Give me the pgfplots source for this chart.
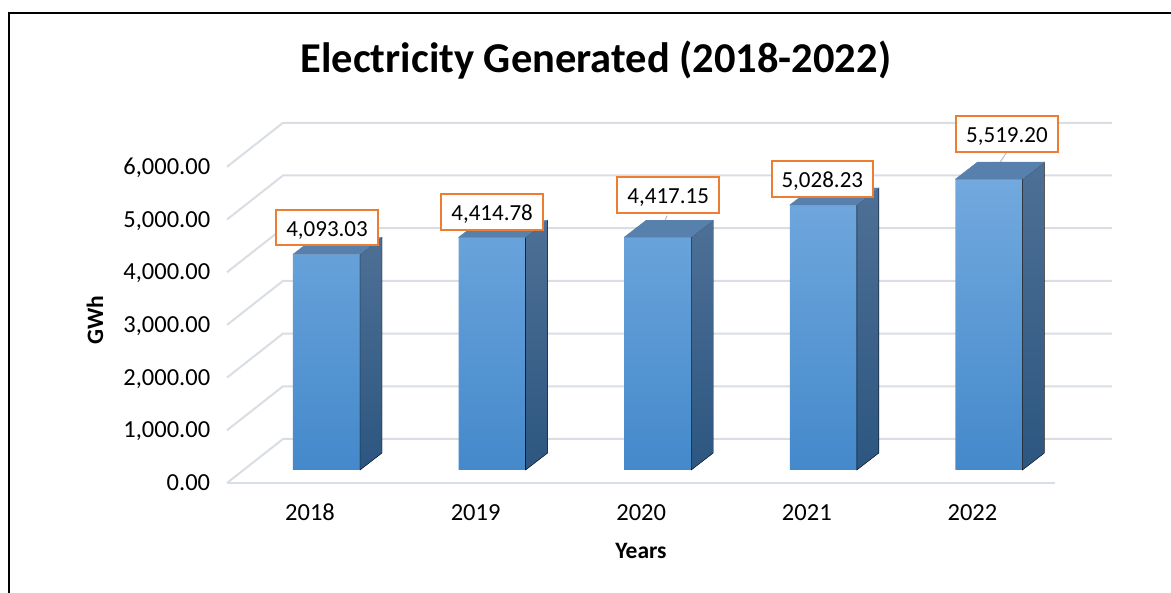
\documentclass[border=0pt]{standalone}
\usepackage{fontspec}
\setmainfont{Carlito}
\usepackage{pgfplots}
\usepackage{pgfplotstable}
\pgfplotsset{compat=1.18}
\definecolor{gridc}{RGB}{217,221,228}
\definecolor{fTop}{RGB}{114,169,222}
\definecolor{fBot}{RGB}{68,137,203}
\definecolor{sTop}{RGB}{78,112,150}
\definecolor{sBot}{RGB}{44,86,128}
\definecolor{tTop}{RGB}{88,128,172}
\definecolor{orangeC}{RGB}{237,125,49}
\definecolor{leadC}{RGB}{180,190,200}

\pgfplotstableread{
x val lab dx dy lu lv
0 4093.03 4,093.03 0.5 26.8 0 0
1 4414.78 4,414.78 0 25.5 0 0
2 4417.15 4,417.15 10.5 42 0.0568 408
3 5028.23 5,028.23 -1 26 0 0
4 5519.20 5,519.20 18 45 0.105 499
}\data

\newcommand\yu{0.0527}

\begin{document}
\begin{tikzpicture}
\useasboundingbox (0,0) rectangle (1171pt,-593pt);
\draw[line width=2pt] (9pt,-600pt) -- (9pt,-13pt) -- (1180pt,-13pt);
\begin{axis}[
  at={(227pt,-483pt)}, anchor=south west,
  x=165.6pt, y=\yu pt,
  xmin=-0.601, xmax=4.743, ymin=-247, ymax=6588,
  enlargelimits=false, clip=false,
  axis line style={draw=none}, major tick length=0pt, tick style={draw=none},
  xtick={0,1,2,3,4}, xticklabels={2018,2019,2020,2021,2022},
  ytick={0,1000,2000,3000,4000,5000,6000},
  yticklabels={0.00,{1,000.00},{2,000.00},{3,000.00},{4,000.00},{5,000.00},{6,000.00}},
  tick label style={font=\fontsize{24.5pt}{28pt}\selectfont},
  xticklabel style={anchor=base, xshift=-16.5pt, yshift=-37pt},
  yticklabel style={anchor=base east, xshift=-13.3pt, yshift=-20.6pt},
  title={Electricity Generated (2018-2022)},
  every axis title/.style={at={(axis description cs:0.4169,1.1389)}, anchor=base, font=\fontsize{42.5pt}{50pt}\selectfont\bfseries},
  xlabel={Years}, ylabel={GWh},
  every axis x label/.style={at={(axis description cs:0.4678,-0.1889)}, anchor=center, font=\fontsize{23.5pt}{27pt}\selectfont\bfseries},
  every axis y label/.style={at={(axis description cs:-0.1492,0.4528)}, anchor=center, rotate=90, font=\fontsize{23.5pt}{27pt}\selectfont\bfseries},
]
% gridlines (floor, side wall, back wall)
\addplot[gridc, line width=2pt, line join=round] coordinates {(-0.601,-247) (4.399,-247)};
\addplot[gridc, line width=2pt, line join=round] coordinates {(-0.601,-247) (-0.263,588) (4.743,588)};
\addplot[gridc, line width=2pt, line join=round] coordinates {(-0.601,753) (-0.263,1588) (4.743,1588)};
\addplot[gridc, line width=2pt, line join=round] coordinates {(-0.601,1753) (-0.263,2588) (4.743,2588)};
\addplot[gridc, line width=2pt, line join=round] coordinates {(-0.601,2753) (-0.263,3588) (4.743,3588)};
\addplot[gridc, line width=2pt, line join=round] coordinates {(-0.601,3753) (-0.263,4588) (4.743,4588)};
\addplot[gridc, line width=2pt, line join=round] coordinates {(-0.601,4753) (-0.263,5588) (4.743,5588)};
\addplot[gridc, line width=2pt, line join=round] coordinates {(-0.601,5753) (-0.263,6588) (4.743,6588)};
% side and top faces of the bars
\addplot[only marks, mark=*, mark size=0pt, mark options={draw=none,fill=none}, scatter,
  visualization depends on={rawy \as \rawy},
  scatter/@pre marker code/.code={%
    \pgfmathsetmacro\h{\rawy*\yu}%
    \shade[top color=sTop, bottom color=sBot] (33.5pt,0pt) -- (55.5pt,17pt) -- (55.5pt,17pt-\h pt) -- (33.5pt,-\h pt) -- cycle;
    \fill[tTop] (-33.5pt,0pt) -- (-11.5pt,17pt) -- (55.5pt,17pt) -- (33.5pt,0pt) -- cycle;
  },
  scatter/@post marker code/.code={}
] table[x=x,y=val]{\data};
% front faces
\addplot[ybar, bar width=0.405, bar shift=0, draw=none, top color=fTop, bottom color=fBot] table[x=x,y=val]{\data};
% leader lines
\addplot[leadC, line width=1pt, mark=none, quiver={u=\thisrow{lu}, v=\thisrow{lv}}] table[x=x,y=val]{\data};
% data labels
\addplot[only marks, mark=*, mark size=0pt, mark options={draw=none,fill=none},
  scatter/use mapped color={draw=none,fill=none},
  nodes near coords, point meta=explicit symbolic,
  visualization depends on={\thisrow{dx} \as \ldx},
  visualization depends on={\thisrow{dy} \as \ldy},
  every node near coord/.style={anchor=center, xshift=\ldx pt, yshift=\ldy pt, draw=orangeC, line width=2pt, fill=white, text=black, inner xsep=10pt, inner ysep=6.6pt, text height=20pt, text depth=2.7pt, font=\fontsize{23pt}{27pt}\selectfont},
] table[x=x,y=val,meta=lab]{\data};
\end{axis}
\end{tikzpicture}
\end{document}
